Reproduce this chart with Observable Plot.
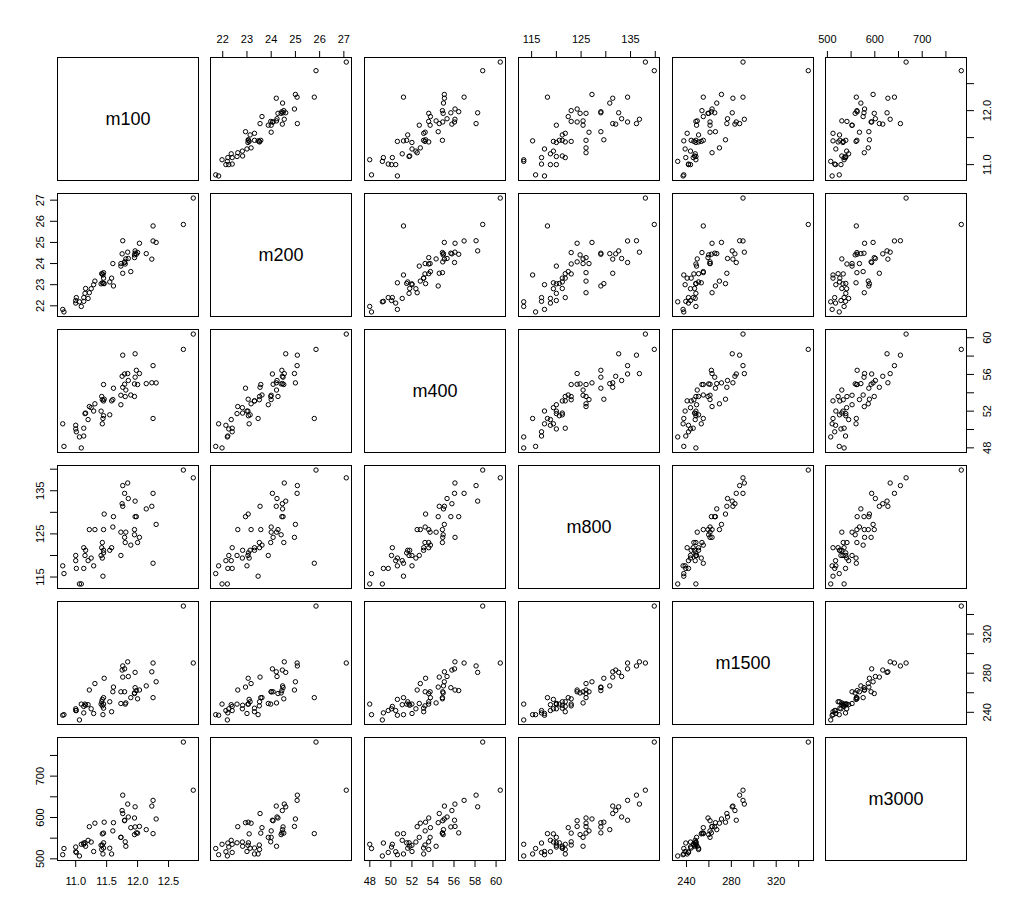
<!DOCTYPE html>
<html><head><meta charset="utf-8">
<script src="https://cdn.jsdelivr.net/npm/d3@7"></script>
<script src="https://cdn.jsdelivr.net/npm/@observablehq/plot@0.6"></script>
<style>
body{margin:0;background:#fff;}
#chart{position:relative;width:1024px;height:918px;background:#fff;overflow:hidden;}
#chart svg{position:absolute;}
</style></head><body><div id="chart"></div>
<script>
// Women's national track records (55 countries); 800/1500/3000 m in seconds
const countries = ["Argentina","Australia","Austria","Belgium","Bermuda","Brazil","Burma","Canada","Chile","China","Columbia","Cook Islands","Costa Rica","Czechoslovakia","Denmark","Dominican Republic","Finland","France","GDR","FRG","GB & NI","Greece","Guatemala","Hungary","India","Indonesia","Ireland","Israel","Italy","Japan","Kenya","Korea","DPR Korea","Luxembourg","Malaysia","Mauritius","Mexico","Netherlands","New Zealand","Norway","Papua New Guinea","Philippines","Poland","Portugal","Rumania","Singapore","Spain","Sweden","Switzerland","Taipei","Thailand","Turkey","USA","USSR","Western Samoa"];
const m100 = [11.61,11.20,11.43,11.41,11.46,11.31,12.14,11.00,12.00,11.95,11.60,12.90,11.96,11.09,11.42,11.79,11.13,11.15,10.81,11.01,11.00,11.79,11.84,11.45,11.95,11.85,11.43,11.45,11.29,11.73,11.73,11.96,12.25,12.03,12.23,11.76,11.89,11.25,11.55,11.58,12.25,11.76,11.13,11.81,11.44,12.30,11.80,11.16,11.45,11.22,11.75,11.98,10.79,11.06,12.74];
const m200 = [22.94,22.35,23.09,23.04,23.05,23.17,24.47,22.25,24.52,24.41,24.00,27.10,24.60,21.97,23.52,24.05,22.39,22.59,21.71,22.39,22.13,24.08,24.54,23.06,24.28,24.24,23.51,23.57,23.00,24.00,23.88,24.49,25.78,24.96,24.21,25.08,23.62,22.81,23.13,23.31,25.07,23.54,22.21,24.22,23.46,25.00,23.98,22.82,23.31,22.62,24.46,24.44,21.83,22.19,25.85];
const m400 = [54.50,51.08,50.62,52.00,53.30,52.80,55.00,50.06,54.90,54.97,53.26,60.40,58.25,47.99,53.60,56.05,50.14,51.73,48.16,49.75,50.46,54.93,56.09,51.50,53.60,55.34,53.24,54.90,52.01,53.73,52.70,55.70,51.20,56.10,55.09,58.10,53.76,52.38,51.60,53.12,56.96,54.60,49.29,54.30,51.20,55.08,53.59,51.79,53.11,52.50,55.80,56.45,50.62,49.19,58.73];
const m800 = [129.0,118.8,119.4,120.0,129.6,126.0,130.8,120.0,123.0,124.8,126.6,138.0,132.6,113.4,121.8,134.4,121.8,120.0,115.8,117.0,118.8,124.2,136.8,120.6,126.0,133.2,123.0,126.0,117.6,125.4,120.0,129.0,118.2,124.2,131.4,136.2,122.4,119.4,121.2,121.8,134.4,131.4,117.0,125.4,115.2,127.2,123.0,121.2,121.2,126.0,132.0,129.0,117.6,113.4,139.8];
const m1500 = [265.8,247.8,253.2,248.4,274.8,269.4,267.0,243.6,253.8,259.8,261.0,290.4,280.8,248.4,250.8,284.4,246.0,248.4,237.6,241.8,241.8,261.0,291.6,248.4,259.2,276.6,246.6,255.0,238.8,261.0,249.0,265.2,255.0,262.8,281.4,287.4,255.0,243.6,250.8,240.6,290.4,276.0,239.4,249.6,237.6,271.2,248.4,247.2,244.2,262.8,283.2,262.2,237.0,232.2,348.6];
const m3000 = [587.4,544.8,560.4,532.8,588.6,586.2,570.6,528.6,562.2,558.6,567.6,666.0,625.8,535.2,522.6,593.4,535.2,538.8,525.0,515.4,517.2,592.2,632.4,538.8,598.8,601.2,533.4,562.2,517.8,552.0,552.0,577.2,561.0,578.4,627.6,654.0,575.4,540.6,525.6,511.8,641.4,609.6,538.2,530.4,511.8,596.4,541.2,530.4,526.2,577.8,616.8,562.8,510.0,507.0,782.4];

const varNames = ["m100","m200","m400","m800","m1500","m3000"];
// tick positions
const ticks100 = [11.0,11.5,12.0,12.5];
const ticks200 = [22,23,24,25,26,27];
const ticks400 = [48,50,52,54,56,58,60];
const ticks800 = [115,120,125,130,135,140];
const ticks1500 = [240,260,280,300,320,340];
const ticks3000 = [500,550,600,650,700,750];
// labelled ticks on horizontal axes (top/bottom)
const xLab100 = [11.0,11.5,12.0,12.5];
const xLab200 = [22,23,24,25,26,27];
const xLab400 = [48,50,52,54,56,58,60];
const xLab800 = [115,125,135];
const xLab1500 = [240,280,320];
const xLab3000 = [500,600,700];
// labelled ticks on vertical axes (left/right)
const yLab100 = [11.0,12.0];
const yLab200 = [22,23,24,25,26,27];
const yLab400 = [48,52,56,60];
const yLab800 = [115,125,135];
const yLab1500 = [240,280,320];
const yLab3000 = [500,600,700];

const series = {m100, m200, m400, m800, m1500, m3000};
const tickSets = {m100: ticks100, m200: ticks200, m400: ticks400, m800: ticks800, m1500: ticks1500, m3000: ticks3000};
const xLabs = {m100: xLab100, m200: xLab200, m400: xLab400, m800: xLab800, m1500: xLab1500, m3000: xLab3000};
const yLabs = {m100: yLab100, m200: yLab200, m400: yLab400, m800: yLab800, m1500: yLab1500, m3000: yLab3000};

const rows = countries.map((c, i) => {
  const o = {country: c};
  for (const v of varNames) o[v] = series[v][i];
  return o;
});

function domainOf(v) {
  const [a, b] = d3.extent(series[v]);
  const p = (b - a) * 0.04;
  return [a - p, b + p];
}
const fmt = v => v === "m100" ? (d => d.toFixed(1)) : (d => String(d));

const colLeft = [57, 210, 364, 518, 672, 825];
const rowTop = [57, 193, 329, 465, 601, 737];
const PW = 141, PH = 123, M = 30;
const FONT = "'Liberation Sans', Arial, sans-serif";
const chart = document.getElementById("chart");

for (let r = 0; r < 6; r++) {
  for (let c = 0; c < 6; c++) {
    const xv = varNames[c], yv = varNames[r];
    const marks = [Plot.frame({stroke: "black", strokeWidth: 1})];
    let xAxis = false, yAxis = false;
    if (r === c) {
      marks.push(Plot.text([xv], {frameAnchor: "middle", text: d => d, fontSize: 18, fill: "black"}));
    } else {
      marks.push(Plot.dot(rows, {x: xv, y: yv, r: 2.2, stroke: "black", strokeWidth: 1, fill: "none"}));
      const xl = xLabs[xv], yl = yLabs[yv], fx = fmt(xv), fy = fmt(yv);
      if (r === 0 && c % 2 === 1) {
        xAxis = true;
        marks.push(Plot.axisX({anchor: "top", ticks: tickSets[xv], tickSize: 7, tickPadding: 7.5, label: null, fontSize: 11,
          tickFormat: d => xl.includes(d) ? fx(d) : ""}));
      }
      if (r === 5 && c % 2 === 0) {
        xAxis = true;
        marks.push(Plot.axisX({anchor: "bottom", ticks: tickSets[xv], tickSize: 7, tickPadding: 9.4, label: null, fontSize: 11,
          tickFormat: d => xl.includes(d) ? fx(d) : ""}));
      }
      if (c === 0 && r % 2 === 1) {
        yAxis = true;
        marks.push(Plot.axisY({anchor: "left", ticks: tickSets[yv], tickSize: 7, tickPadding: 7, label: null, fontSize: 11,
          tickRotate: -90, textAnchor: "middle", lineAnchor: "bottom",
          tickFormat: d => yl.includes(d) ? fy(d) : ""}));
      }
      if (c === 5 && r % 2 === 0) {
        yAxis = true;
        marks.push(Plot.axisY({anchor: "right", ticks: tickSets[yv], tickSize: 7, tickPadding: 9.7, label: null, fontSize: 11,
          tickRotate: -90, textAnchor: "middle", lineAnchor: "top",
          tickFormat: d => yl.includes(d) ? fy(d) : ""}));
      }
    }
    const opts = {
      width: PW + 2 * M, height: PH + 2 * M,
      marginLeft: M, marginRight: M, marginTop: M, marginBottom: M,
      style: `background: transparent; overflow: visible; font-family: ${FONT}; font-size: 11px; color: black;`,
      marks
    };
    if (r !== c) {
      opts.x = {domain: domainOf(xv), ...(xAxis ? {} : {axis: null})};
      opts.y = {domain: domainOf(yv), ...(yAxis ? {} : {axis: null})};
    }
    const svg = Plot.plot(opts);
    svg.style.left = (colLeft[c] - M) + "px";
    svg.style.top = (rowTop[r] - M) + "px";
    chart.appendChild(svg);
  }
}
</script></body></html>
